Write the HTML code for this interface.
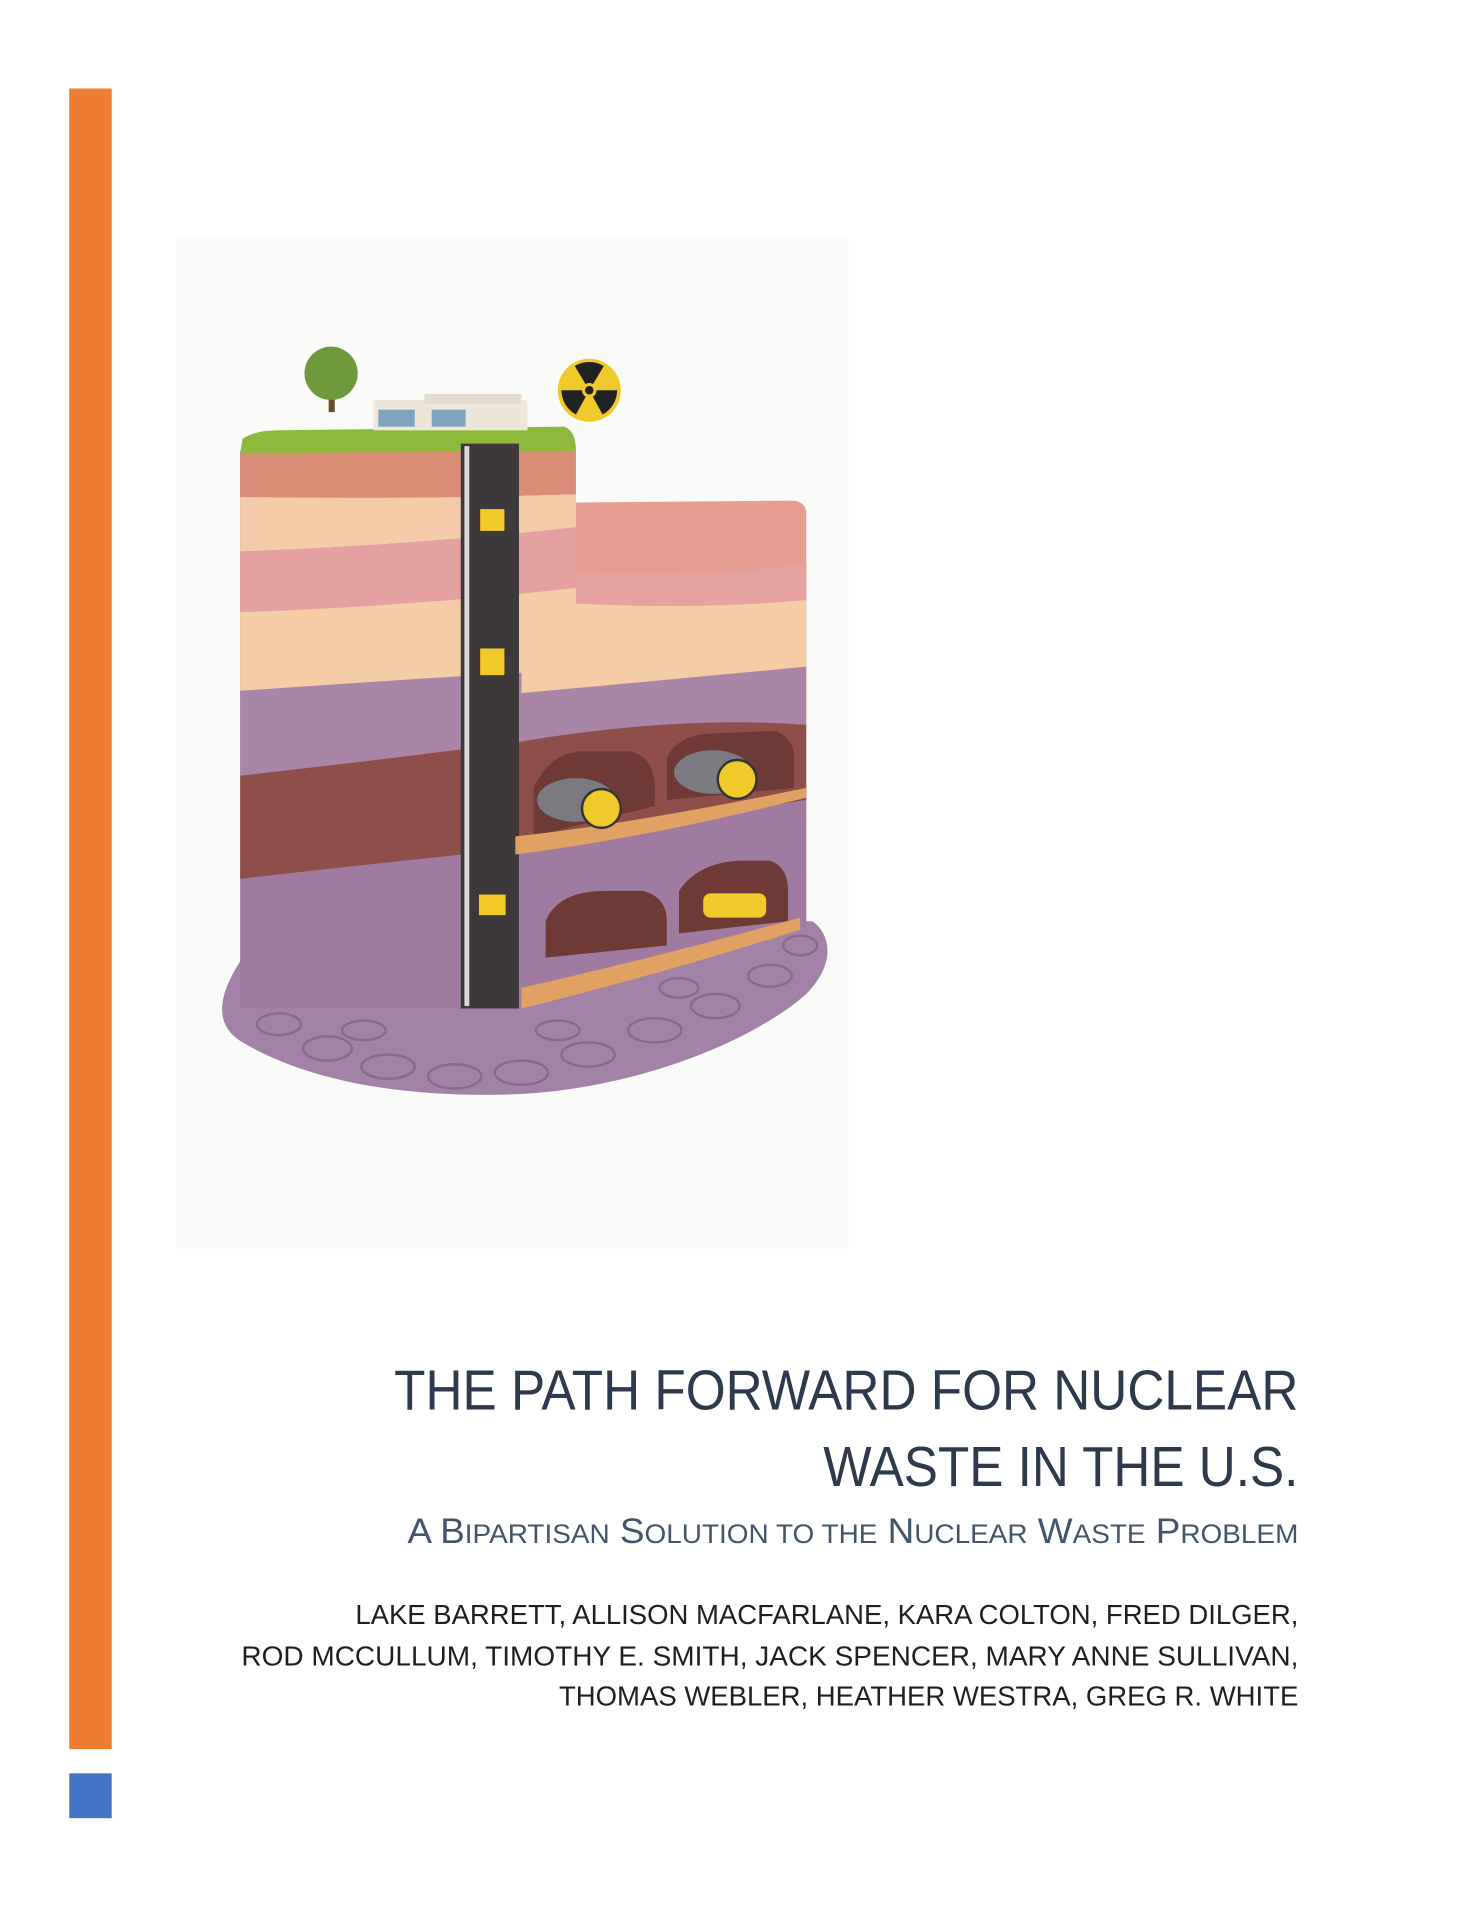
<!DOCTYPE html>
<html><head><meta charset="utf-8"><style>
html,body{margin:0;padding:0;background:#fff;}
svg{display:block;}
</style></head><body>
<svg width="1484" height="1920" viewBox="0 0 1224 1584" xmlns="http://www.w3.org/2000/svg">
<rect width="1224" height="1584" fill="#fff"/>
<rect x="57" y="73" width="35" height="1370" fill="#ed7d31"/>
<rect x="57" y="1463" width="35" height="37" fill="#4472c4"/>
<rect x="145" y="195" width="555" height="835" fill="#fafaf9"/>
<!-- rubble base -->
<path d="M200,790 C180,820 175,845 200,860 C260,895 340,905 420,903 C520,900 620,860 665,820 C690,795 685,770 670,760 L200,760 Z" fill="#a282a6"/>
<g fill="none" stroke="#8a6a8e" stroke-width="2">
<ellipse cx="230" cy="845" rx="18" ry="9"/><ellipse cx="270" cy="865" rx="20" ry="10"/><ellipse cx="320" cy="880" rx="22" ry="10"/><ellipse cx="375" cy="888" rx="22" ry="10"/><ellipse cx="430" cy="885" rx="22" ry="10"/><ellipse cx="485" cy="870" rx="22" ry="10"/><ellipse cx="540" cy="850" rx="22" ry="10"/><ellipse cx="590" cy="830" rx="20" ry="10"/><ellipse cx="635" cy="805" rx="18" ry="9"/><ellipse cx="300" cy="850" rx="18" ry="8"/><ellipse cx="460" cy="850" rx="18" ry="8"/><ellipse cx="560" cy="815" rx="16" ry="8"/><ellipse cx="660" cy="780" rx="14" ry="8"/>
</g>
<!-- right block -->
<path d="M428,415 L655,413 Q666,415 665,425 L665,765 L428,832 Z" fill="#e79e92"/>
<path d="M428,470 Q560,480 665,465 L665,495 Q560,505 428,495 Z" fill="#e4a39f"/>
<path d="M428,495 Q560,505 665,495 L665,550 Q560,560 428,572 Z" fill="#f4cca6"/>
<path d="M428,572 Q560,560 665,550 L665,600 Q560,595 428,612 Z" fill="#a986a8"/>
<path d="M428,612 Q560,590 665,598 L665,660 L428,700 Z" fill="#8e4f4a"/>
<path d="M428,700 L665,660 L665,765 L428,832 Z" fill="#a07ba1"/>
<!-- left block -->
<rect x="198" y="372" width="232" height="460" fill="#a07ba1"/>
<path d="M198,372 L475,372 L475,408 Q340,412 198,410 Z" fill="#d98d77"/>
<path d="M198,410 Q340,412 475,408 L475,435 Q340,450 198,455 Z" fill="#f4cba8"/>
<path d="M198,455 Q340,450 475,435 L475,485 Q340,500 198,505 Z" fill="#e3a19f"/>
<path d="M198,505 Q340,500 475,485 L475,555 Q340,560 198,570 Z" fill="#f4cca6"/>
<path d="M198,570 Q340,560 430,555 L430,615 Q330,625 198,640 Z" fill="#a986a8"/>
<path d="M198,640 Q330,625 430,612 L430,700 Q330,710 198,725 Z" fill="#8e4f4a"/>
<!-- grass -->
<path d="M200,362 Q210,355 230,355 L465,352 Q475,355 475,372 L198,374 Z" fill="#8dba3d"/>
<!-- building -->
<rect x="308" y="330" width="127" height="25" fill="#ece7da"/>
<rect x="350" y="325" width="80" height="8" fill="#e4ddcf"/>
<rect x="312" y="338" width="30" height="14" fill="#7ea4c0"/>
<rect x="356" y="338" width="28" height="14" fill="#7ea4c0"/>
<!-- tree -->
<rect x="271" y="310" width="5" height="30" fill="#6b4a2a"/>
<circle cx="273" cy="308" r="22" fill="#6e9a3c"/>
<!-- radiation symbol -->
<circle cx="486" cy="322" r="26" fill="#f0c92a"/>
<g fill="#222"><circle cx="486" cy="322" r="4"/>
<path d="M486,322 L474,302 A23,23 0 0 1 498,302 Z"/><path d="M486,322 L509,322 A23,23 0 0 1 497,342 Z"/><path d="M486,322 L475,342 A23,23 0 0 1 463,322 Z"/></g>
<circle cx="486" cy="322" r="6" fill="#f0c92a"/><circle cx="486" cy="322" r="3.5" fill="#222"/>
<!-- shaft -->
<rect x="380" y="366" width="48" height="466" fill="#3d393b"/>
<rect x="383" y="368" width="4" height="462" fill="#d8d8d8"/>
<rect x="396" y="420" width="20" height="18" fill="#f2c928"/>
<rect x="396" y="535" width="20" height="22" fill="#f2c928"/>
<rect x="395" y="738" width="22" height="17" fill="#f2c928"/>
<!-- upper tunnels -->
<path d="M440,690 L440,650 Q455,618 485,620 L520,620 Q540,625 540,650 L540,665 Z" fill="#6e3a36"/>
<path d="M550,660 L550,625 Q560,605 590,605 L640,603 Q655,610 655,625 L655,650 Z" fill="#6e3a36"/>
<path d="M425,705 L425,690 Q520,680 665,650 L665,658 Q540,690 425,705 Z" fill="#e0a262"/>
<ellipse cx="475" cy="660" rx="32" ry="18" fill="#7a7a80"/>
<circle cx="496" cy="667" r="16" fill="#f0c92a" stroke="#333" stroke-width="2"/>
<ellipse cx="588" cy="637" rx="32" ry="18" fill="#7a7a80"/>
<circle cx="608" cy="643" r="16" fill="#f0c92a" stroke="#333" stroke-width="2"/>
<!-- lower tunnels -->
<path d="M450,790 L450,760 Q460,735 500,735 L530,735 Q550,740 550,760 L550,780 Z" fill="#6e3a36"/>
<path d="M560,770 L560,735 Q575,712 610,710 L635,710 Q650,715 650,735 L650,760 Z" fill="#6e3a36"/>
<path d="M430,832 L430,815 Q540,790 660,757 L660,767 Q540,805 430,832 Z" fill="#e0a262"/>
<rect x="580" y="737" width="52" height="20" rx="6" fill="#f0c92a"/>
<!-- text -->
<g fill="#2d3a4b" font-family="'Liberation Sans', sans-serif">
<text x="1071" y="1163" font-size="47" text-anchor="end" textLength="746" lengthAdjust="spacingAndGlyphs">THE PATH FORWARD FOR NUCLEAR</text>
<text x="1071" y="1226" font-size="47" text-anchor="end" textLength="392" lengthAdjust="spacingAndGlyphs">WASTE IN THE U.S.</text>
<text x="1071" y="1273" font-size="29" text-anchor="end" textLength="735" lengthAdjust="spacingAndGlyphs" fill="#44546a">A B<tspan font-size="22">IPARTISAN</tspan> S<tspan font-size="22">OLUTION TO THE</tspan> N<tspan font-size="22">UCLEAR</tspan> W<tspan font-size="22">ASTE</tspan> P<tspan font-size="22">ROBLEM</tspan></text>
</g>
<g fill="#1f1f1f" font-family="'Liberation Sans', sans-serif" font-size="23" text-anchor="end">
<text x="1071" y="1340" textLength="778" lengthAdjust="spacingAndGlyphs">LAKE BARRETT, ALLISON MACFARLANE, KARA COLTON, FRED DILGER,</text>
<text x="1071" y="1374" textLength="872" lengthAdjust="spacingAndGlyphs">ROD MCCULLUM, TIMOTHY E. SMITH, JACK SPENCER, MARY ANNE SULLIVAN,</text>
<text x="1071" y="1407" textLength="610" lengthAdjust="spacingAndGlyphs">THOMAS WEBLER, HEATHER WESTRA, GREG R. WHITE</text>
</g>
</svg>
</body></html>
